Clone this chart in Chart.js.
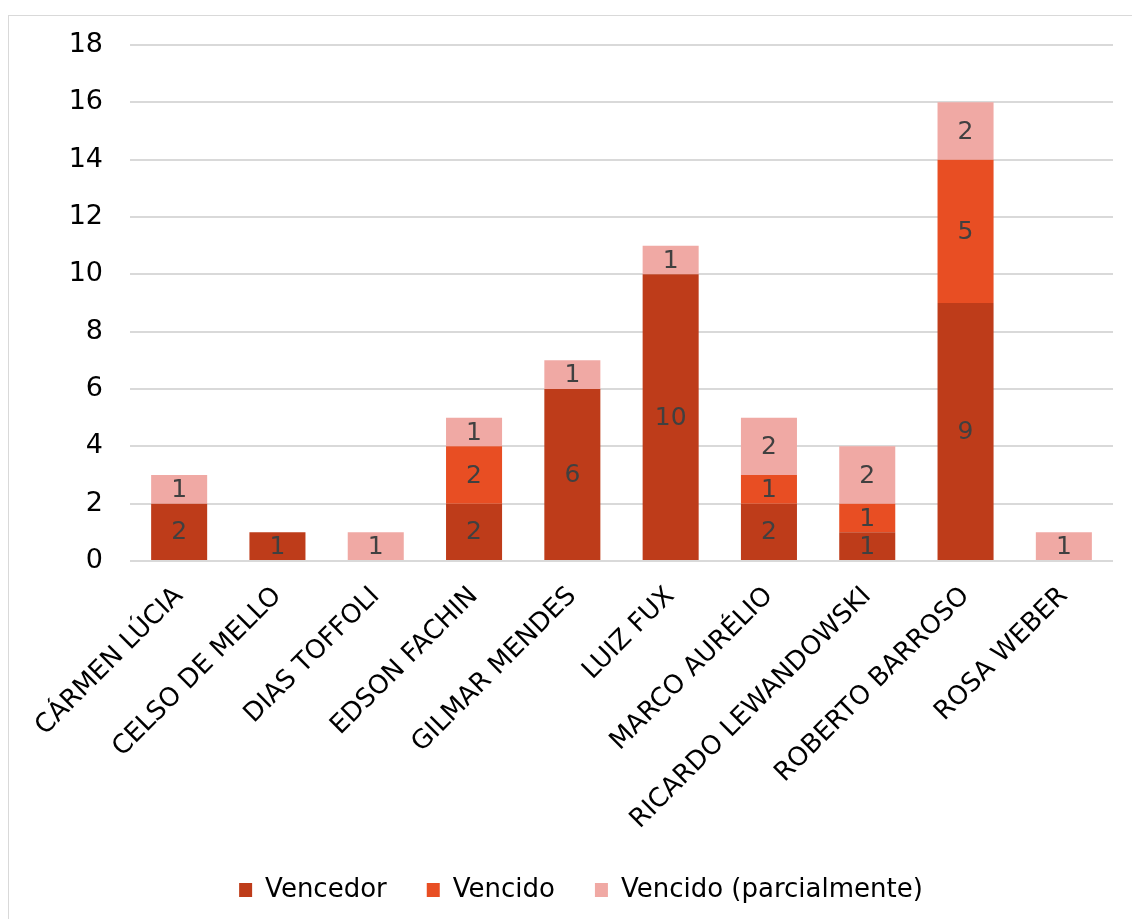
<!DOCTYPE html>
<html>
<head>
<meta charset="utf-8">
<script src="https://cdn.jsdelivr.net/npm/chart.js@4"></script>
<style>
  body { margin: 0; background: #fff; overflow: hidden; }
  #frame { position: absolute; left: 8px; top: 15px; width: 1140px; height: 920px; border: 1px solid #d9d9d9; }
  canvas { position: absolute; left: 0; top: 0; }
</style>
</head>
<body>
<div id="frame"></div>
<canvas id="barChart" width="1132" height="919"></canvas>
<script>
// ministros e resultados
var ministros = ["CÁRMEN LÚCIA", "CELSO DE MELLO", "DIAS TOFFOLI", "EDSON FACHIN", "GILMAR MENDES",
  "LUIZ FUX", "MARCO AURÉLIO", "RICARDO LEWANDOWSKI", "ROBERTO BARROSO", "ROSA WEBER"];
var vencedor = [2, 1, 0, 2, 6, 10, 2, 1, 9, 0];
var vencido = [0, 0, 0, 2, 0, 0, 1, 1, 5, 0];
var parcial = [1, 0, 1, 1, 1, 1, 2, 2, 2, 1];
var yTicks = [0, 2, 4, 6, 8, 10, 12, 14, 16, 18];

var fonte = "'DejaVu Sans', Verdana, sans-serif";

// numeros dentro das barras
var rotulos = {
  id: 'rotulos',
  afterDatasetsDraw: function(chart) {
    var ctx = chart.ctx;
    ctx.save();
    ctx.font = "25px " + fonte;
    ctx.fillStyle = "#404040";
    ctx.textAlign = "center";
    ctx.textBaseline = "middle";
    chart.data.datasets.forEach(function(ds, i) {
      chart.getDatasetMeta(i).data.forEach(function(bar, j) {
        var v = ds.data[j];
        if (!v) return;
        ctx.fillText(String(v), bar.x, (bar.y + bar.base) / 2 + 1);
      });
    });
    ctx.restore();
  }
};

// centro da legenda como no original
var moveLegenda = {
  id: 'moveLegenda',
  afterLayout: function(chart) {
    chart.legend.left = 0;
    chart.legend.right = 1162;
  }
};

var ctxB = document.getElementById("barChart").getContext('2d');
var grafico = new Chart(ctxB, {
  type: 'bar',
  data: {
    labels: ministros,
    datasets: [
      { label: "Vencedor", data: vencedor, backgroundColor: "#BE3C1A" },
      { label: "Vencido", data: vencido, backgroundColor: "#E84E23" },
      { label: "Vencido (parcialmente)", data: parcial, backgroundColor: "#F0A9A4" }
    ]
  },
  options: {
    responsive: false,
    animation: false,
    datasets: { bar: { categoryPercentage: 1, barPercentage: 0.57 } },
    layout: { padding: { left: 0, right: 19, top: 45, bottom: 6 } },
    plugins: {
      tooltip: { enabled: false },
      legend: {
        position: 'bottom',
        labels: {
          font: { family: fonte, size: 26 },
          color: "#000",
          boxWidth: 13,
          boxHeight: 14,
          padding: 40
        }
      }
    },
    scales: {
      x: {
        stacked: true,
        grid: { display: false },
        border: { display: false },
        ticks: {
          font: { family: fonte, size: 26 },
          color: "#000",
          minRotation: 45,
          maxRotation: 45,
          autoSkip: false,
          padding: 12
        },
        afterFit: function(scale) { scale.height = 276; }
      },
      y: {
        stacked: true,
        min: 0,
        max: 18,
        afterBuildTicks: function(scale) {
          scale.ticks = yTicks.map(function(v) { return { value: v }; });
        },
        grid: { color: "#d9d9d9", lineWidth: 2, drawTicks: false },
        border: { display: false },
        ticks: {
          font: { family: fonte, size: 27 },
          color: "#000",
          padding: 27
        },
        afterFit: function(scale) { scale.width = 130; }
      }
    }
  },
  plugins: [rotulos, moveLegenda]
});
</script>
</body>
</html>
